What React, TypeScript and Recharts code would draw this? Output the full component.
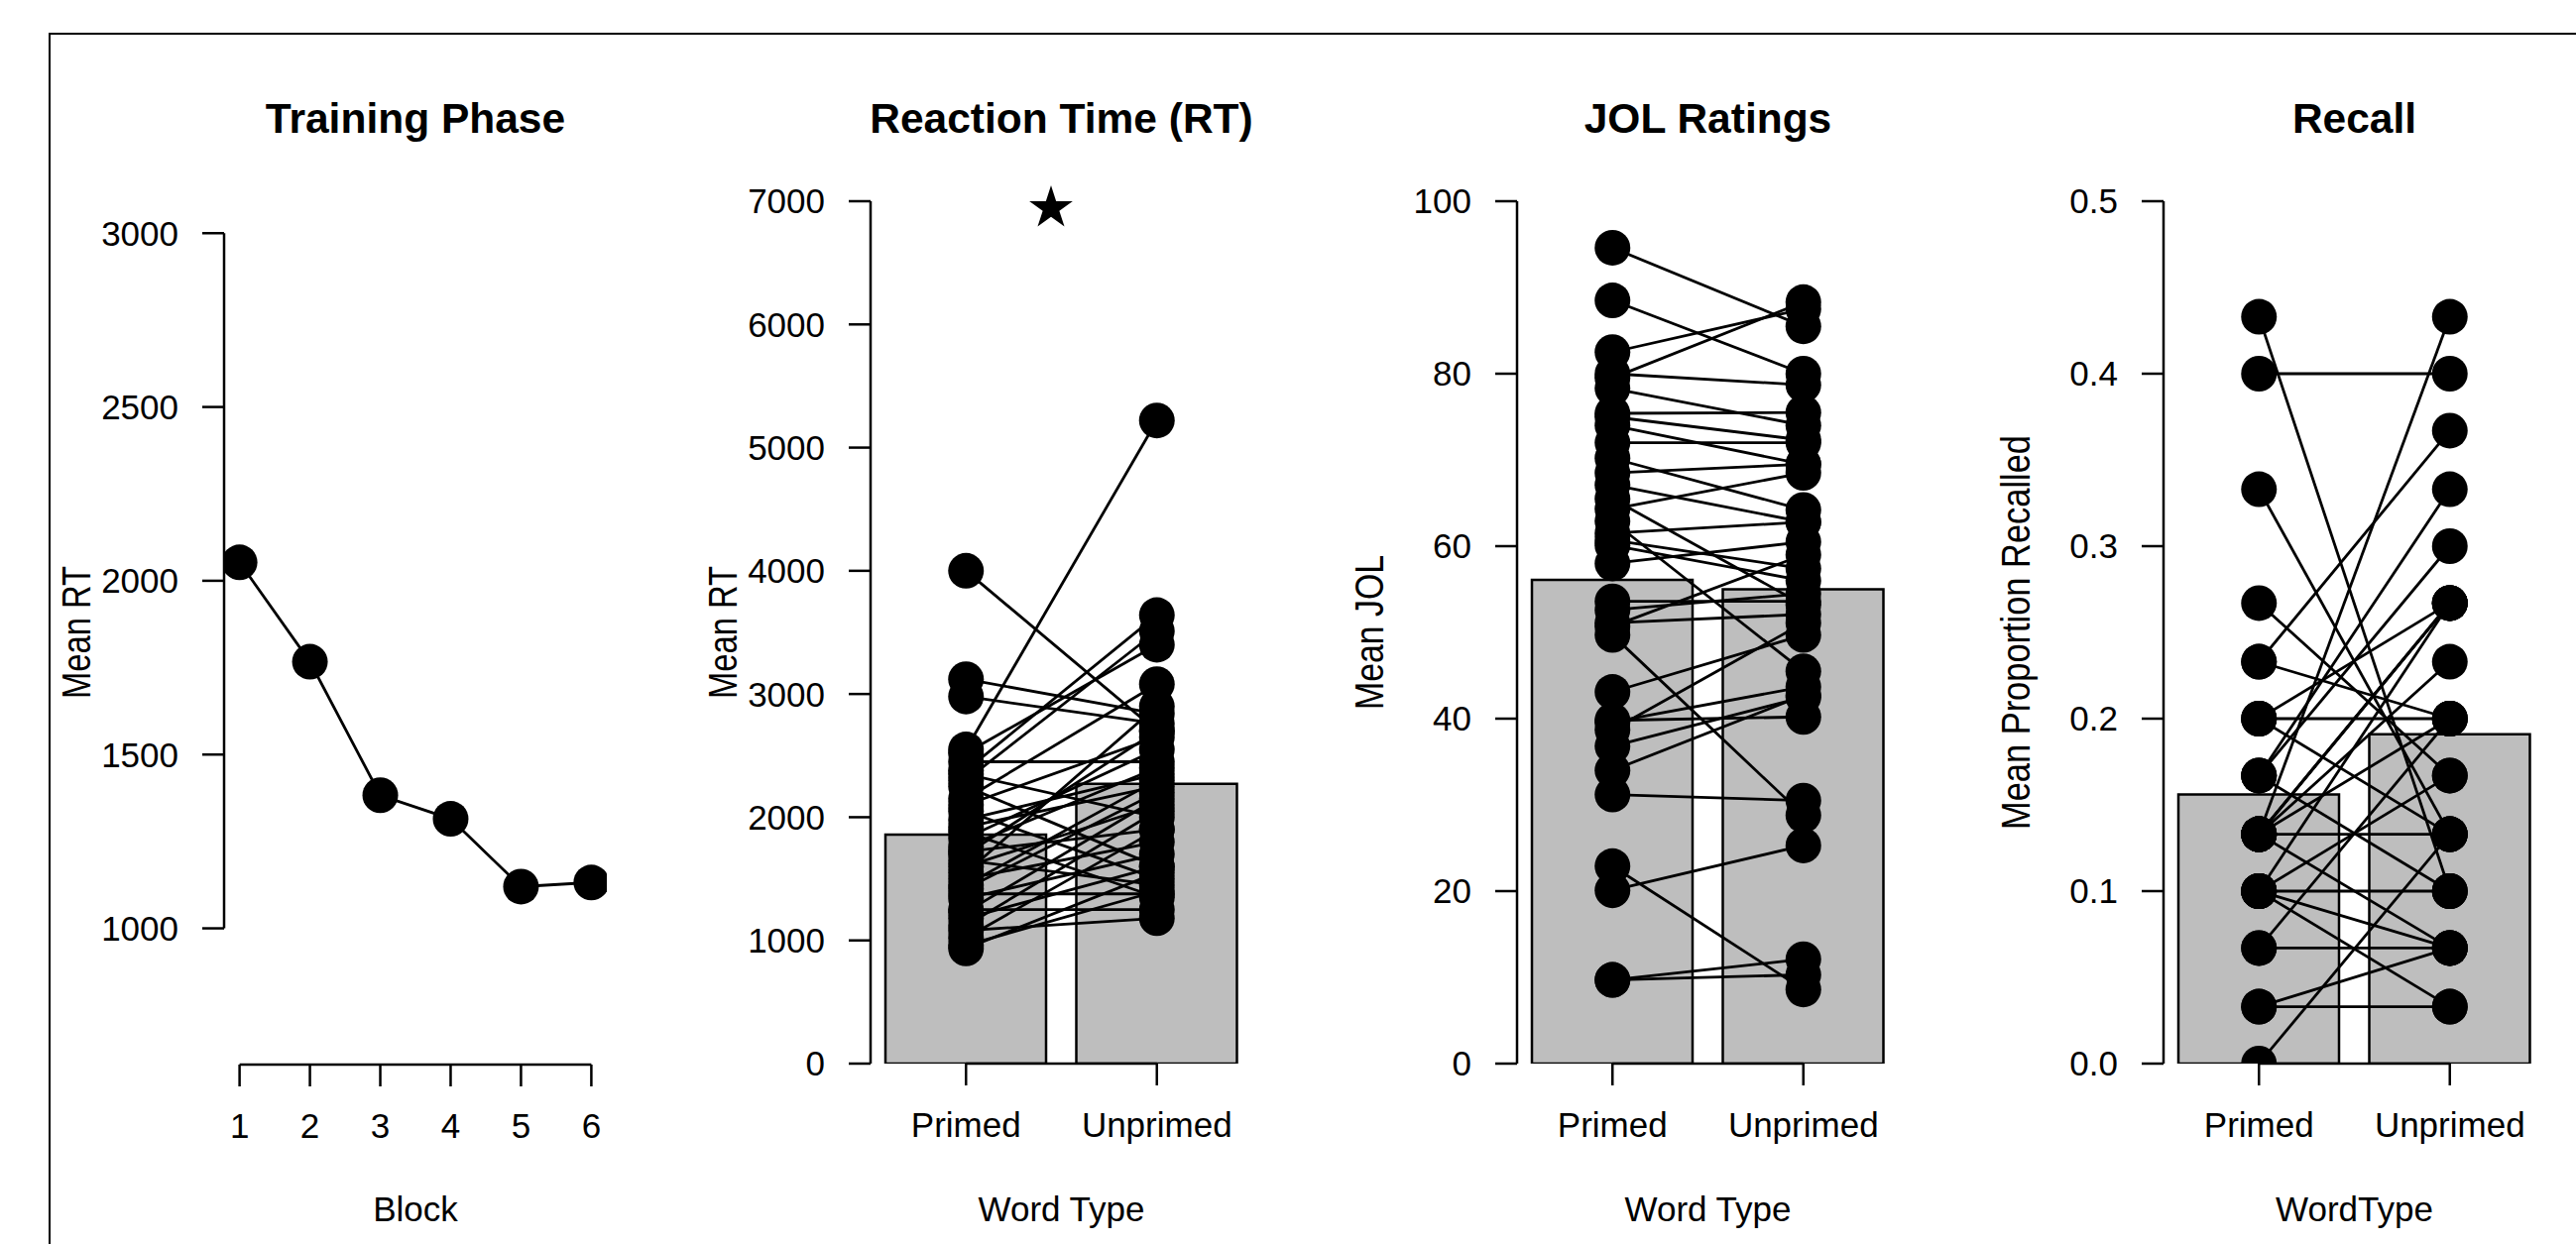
import React from "react";
import { ComposedChart, Line, Bar, XAxis, YAxis, ReferenceLine } from "recharts";

const FONT = '"Liberation Sans", Arial, Helvetica, sans-serif';

// Training phase
const blocks = [1, 2, 3, 4, 5, 6];
const trainingRT = [2053, 1767, 1383, 1315, 1120, 1132];
const trainingTicks = [1000, 1500, 2000, 2500, 3000];

const wordTypes = ["Primed", "Unprimed"];

// Reaction time (per subject)
const rtMeans = [1859, 2270];
const rtPrimed = [4000, 2550, 3120, 2980, 2450, 2520, 2380, 2300, 2350, 2250, 2150, 2100, 2050, 1980, 1920, 1880, 1830, 1760, 1720, 1700, 1650, 1600, 1550, 1500, 1450, 1378, 1420, 1340, 1250, 1230, 1180, 1120, 1080, 1020, 960, 935];
const rtUnprimed = [2700, 5220, 2840, 2760, 2450, 3400, 3640, 3510, 2000, 1600, 3080, 2650, 1500, 2350, 2250, 1350, 2550, 2400, 1900, 2700, 1450, 2100, 2900, 1800, 2300, 1378, 2200, 1700, 1250, 2150, 1600, 2050, 1180, 1900, 1400, 1550];
const rtTicks = [0, 1000, 2000, 3000, 4000, 5000, 6000, 7000];

// JOL ratings
const jolMeans = [56.1, 55.0];
const jolPrimed = [94.6, 88.5, 82.5, 79.5, 80.0, 78.3, 75.4, 75.0, 74.0, 72.0, 70.2, 68.5, 67.1, 65.5, 64.3, 62.9, 61.5, 60.7, 60.1, 58.0, 53.6, 52.6, 51.1, 50.7, 49.7, 43.1, 39.8, 39.6, 38.7, 36.8, 34.0, 31.2, 22.9, 20.1, 9.7, 9.7];
const jolUnprimed = [85.5, 80.0, 87.5, 88.3, 78.7, 74.0, 75.5, 72.3, 69.5, 72.0, 64.2, 69.5, 62.8, 53.2, 68.5, 45.5, 62.8, 57.4, 56.0, 60.5, 53.6, 54.5, 52.1, 59.0, 28.8, 49.7, 40.2, 43.7, 51.1, 42.5, 42.7, 30.5, 8.6, 25.3, 12.1, 10.3];
const jolTicks = [0, 20, 40, 60, 80, 100];

// Recall
const recallMeans = [0.156, 0.191];
const recallPrimed = [0.433, 0.4, 0.333, 0.267, 0.233, 0.233, 0.2, 0.2, 0.2, 0.167, 0.167, 0.167, 0.133, 0.133, 0.133, 0.133, 0.133, 0.133, 0.133, 0.133, 0.1, 0.1, 0.1, 0.1, 0.1, 0.067, 0.067, 0.033, 0.033, 0];
const recallUnprimed = [0.1, 0.4, 0.133, 0.167, 0.367, 0.2, 0.2, 0.133, 0.267, 0.3, 0.333, 0.1, 0.433, 0.267, 0.267, 0.267, 0.233, 0.133, 0.067, 0.2, 0.1, 0.067, 0.033, 0.267, 0.167, 0.067, 0.2, 0.033, 0.067, 0.133];
const recallTicks = [0, 0.1, 0.2, 0.3, 0.4, 0.5];

const CW = 650;
const CH = 1255;
const AXIS_W = 228;
const TOP = 203;
const LW = 2.5;
const DATA_LW = 2.8;

const tickStyle = { fontSize: 35, fill: "#000", fontFamily: FONT };
const lineStyle = { stroke: "#000", strokeWidth: LW };
const dotStyle = { r: 18, fill: "#000", stroke: "#000", strokeWidth: 0 };

function PanelText({ title, xLabel, yLabel, yLen, cx }: { title: string; xLabel: string; yLabel: string; yLen: number; cx: number }) {
  return (
    <g fontFamily={FONT} fill="#000">
      <text x={cx} y={134} textAnchor="middle" fontSize={42.5} fontWeight="bold">{title}</text>
      <text x={cx} y={1232} textAnchor="middle" fontSize={35}>{xLabel}</text>
      <text x={93} y={638} transform="rotate(-90 93 638)" textAnchor="middle" fontSize={40} textLength={yLen} lengthAdjust="spacingAndGlyphs">{yLabel}</text>
    </g>
  );
}

function starPoints(cx: number, cy: number, R: number) {
  const pts: string[] = [];
  for (let k = 0; k < 10; k++) {
    const r = k % 2 === 0 ? R : R * 0.382;
    const a = -Math.PI / 2 + (k * Math.PI) / 5;
    pts.push(`${cx + r * Math.cos(a)},${cy + r * Math.sin(a)}`);
  }
  return pts.join(" ");
}

function TrainingPanel({ left }: { left: number }) {
  const data = blocks.map((b, i) => ({ block: b, rt: trainingRT[i] }));
  return (
    <div style={{ position: "absolute", left, top: 0 }}>
      <ComposedChart width={CW} height={CH} data={data} margin={{ top: TOP, right: 36, bottom: 0, left: 0 }}>
        <XAxis dataKey="block" type="number" domain={[0.78, 6.22]} ticks={blocks} allowDataOverflow height={181}
          axisLine={false} tickLine={lineStyle} tickSize={22} tickMargin={27} tick={tickStyle} interval={0} />
        <YAxis type="number" domain={[608, 3092]} ticks={trainingTicks} width={AXIS_W} axisLine={false}
          tickLine={lineStyle} tickSize={22} tickMargin={24} tick={tickStyle} interval={0} />
        <ReferenceLine segment={[{ x: 0.78, y: 1000 }, { x: 0.78, y: 3000 }]} stroke="#000" strokeWidth={LW} />
        <ReferenceLine segment={[{ x: 1, y: 608 }, { x: 6, y: 608 }]} stroke="#000" strokeWidth={LW} />
        <Line dataKey="rt" stroke="#000" strokeWidth={DATA_LW} dot={dotStyle} activeDot={false} isAnimationActive={false} />
        <PanelText title="Training Phase" xLabel="Block" yLabel="Mean RT" yLen={134} cx={421} />
      </ComposedChart>
    </div>
  );
}

interface PairProps {
  left: number;
  title: string;
  xLabel: string;
  yLabel: string;
  yLen: number;
  means: number[];
  primed: number[];
  unprimed: number[];
  ticks: number[];
  fmt?: (v: number) => string;
  star?: boolean;
}

function PairPanel({ left, title, xLabel, yLabel, yLen, means, primed, unprimed, ticks, fmt, star }: PairProps) {
  const data = wordTypes.map((name, j) => {
    const row: Record<string, number | string> = { name, mean: means[j] };
    primed.forEach((p, i) => {
      row[`s${i}`] = j === 0 ? p : unprimed[i];
    });
    return row;
  });
  const top = ticks[ticks.length - 1];
  return (
    <div style={{ position: "absolute", left, top: 0 }}>
      <ComposedChart width={CW} height={CH} data={data} margin={{ top: TOP, right: 37, bottom: 0, left: 0 }} barSize={162}>
        <XAxis dataKey="name" height={182} axisLine={false} tickLine={lineStyle} tickSize={22} tickMargin={27}
          tick={tickStyle} interval={0} />
        <YAxis type="number" domain={[0, top]} ticks={ticks} width={AXIS_W} axisLine={lineStyle} stroke="#000"
          allowDataOverflow tickLine={lineStyle} tickSize={22} tickMargin={24} tick={tickStyle} interval={0}
          tickFormatter={fmt} />
        <Bar dataKey="mean" fill="#BEBEBE" stroke="#000" strokeWidth={LW} isAnimationActive={false} />
        <ReferenceLine segment={[{ x: "Primed", y: 0 }, { x: "Unprimed", y: 0 }]} stroke="#000" strokeWidth={LW} />
        {primed.map((_, i) => (
          <Line key={i} dataKey={`s${i}`} stroke="#000" strokeWidth={DATA_LW} dot={dotStyle} activeDot={false} isAnimationActive={false} />
        ))}
        {star && <polygon points={starPoints(410, 210, 23)} fill="#000" />}
        <PanelText title={title} xLabel={xLabel} yLabel={yLabel} yLen={yLen} cx={420.5} />
      </ComposedChart>
    </div>
  );
}

export default function App() {
  return (
    <div style={{ position: "absolute", left: 0, top: 0, width: 2598, height: 1255, overflow: "hidden", background: "#fff" }}>
      <div style={{ position: "absolute", left: 49, top: 33, width: 2700, height: 1400, border: "2px solid #000" }} />
      <TrainingPanel left={-2} />
      <PairPanel left={650} title="Reaction Time (RT)" xLabel="Word Type" yLabel="Mean RT" yLen={134}
        means={rtMeans} primed={rtPrimed} unprimed={rtUnprimed} ticks={rtTicks} star />
      <PairPanel left={1302} title="JOL Ratings" xLabel="Word Type" yLabel="Mean JOL" yLen={156}
        means={jolMeans} primed={jolPrimed} unprimed={jolUnprimed} ticks={jolTicks} />
      <PairPanel left={1954} title="Recall" xLabel="WordType" yLabel="Mean Proportion Recalled" yLen={398}
        means={recallMeans} primed={recallPrimed} unprimed={recallUnprimed} ticks={recallTicks}
        fmt={(v: number) => v.toFixed(1)} />
    </div>
  );
}
